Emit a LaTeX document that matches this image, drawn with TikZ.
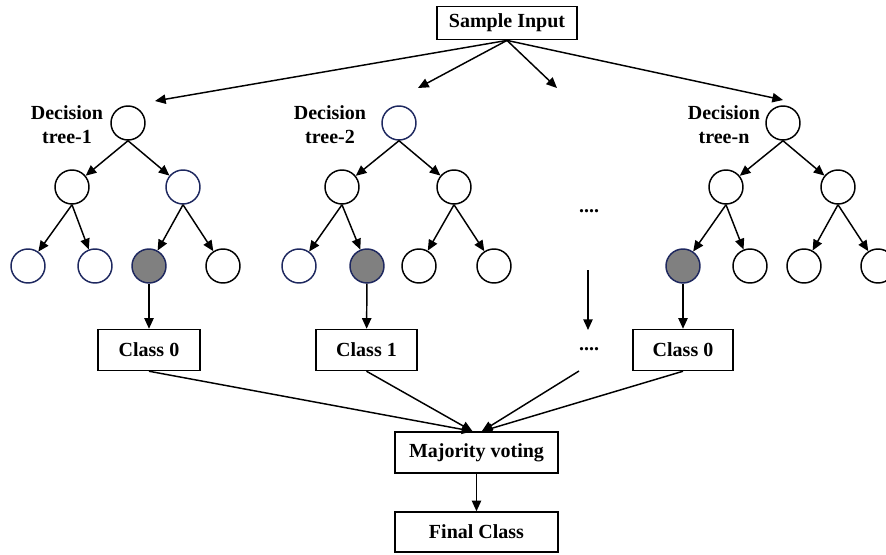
\documentclass[tikz,border=0pt]{standalone}
\usepackage{fontspec}
\setmainfont{Liberation Serif}
\usetikzlibrary{arrows.meta}

\definecolor{leafGray}{RGB}{128,128,128}
\definecolor{rimNavy}{RGB}{30,40,95}

\tikzset{
  lbl/.style={font=\bfseries\fontsize{15}{18}\selectfont},
  box/.style={lbl, draw, line width=1.1pt, minimum height=30.75pt, inner sep=0pt},
  knot/.style={circle, draw, line width=1.1pt, minimum size=25.5pt, inner sep=0pt},
  blueknot/.style={knot, draw=rimNavy},
  hitknot/.style={knot, draw=rimNavy, fill=leafGray},
  arr/.style={-{Triangle[length=8pt,width=7pt]}, line width=1.1pt},
}

\begin{document}
\begin{tikzpicture}[x=0.75pt,y=-0.75pt]
  \clip (0,0) rectangle (886,554);
  % Input
  \node[box, minimum width=105pt, minimum height=25pt] (input) at (507,23) {Sample Input};
  \coordinate (aim1) at (155,101);
  \coordinate (aim2) at (418,88);
  \coordinate (aim3) at (557,88);
  \coordinate (aimn) at (783,100);
  \draw[arr] (input.south) -- (aim1);
  \draw[arr] (input.south) -- (aim2);
  \draw[arr] (input.south) -- (aim3);
  \draw[arr] (input.south) -- (aimn);
  % Tree 1
  \node[lbl, align=center] (name1) at (67,125) {Decision\\tree-1};
  \node[knot] (t1) at (128,123) {};
  \node[knot] (t1l) at (72,187) {};
  \node[blueknot] (t1r) at (183,187) {};
  \node[blueknot] (t1ll) at (28,266) {};
  \node[blueknot] (t1lr) at (95,266) {};
  \node[hitknot] (t1rl) at (149,266) {};
  \node[knot] (t1rr) at (223,266) {};
  \draw[arr] (t1.south) -- (t1l);
  \draw[arr] (t1.south) -- (t1r);
  \draw[arr] (t1l.south) -- (t1ll);
  \draw[arr] (t1l.south) -- (t1lr);
  \draw[arr] (t1r.south) -- (t1rl);
  \draw[arr] (t1r.south) -- (t1rr);
  % Tree 2
  \node[lbl, align=center] (name2) at (330,125) {Decision\\tree-2};
  \node[blueknot] (t2) at (399,123) {};
  \node[knot] (t2l) at (342,187) {};
  \node[knot] (t2r) at (454,187) {};
  \node[blueknot] (t2ll) at (299,266) {};
  \node[hitknot] (t2lr) at (367,266) {};
  \node[knot] (t2rl) at (419,266) {};
  \node[knot] (t2rr) at (494,266) {};
  \draw[arr] (t2.south) -- (t2l);
  \draw[arr] (t2.south) -- (t2r);
  \draw[arr] (t2l.south) -- (t2ll);
  \draw[arr] (t2l.south) -- (t2lr);
  \draw[arr] (t2r.south) -- (t2rl);
  \draw[arr] (t2r.south) -- (t2rr);
  % Tree n
  \node[lbl, align=center] (namen) at (724,125) {Decision\\tree-n};
  \node[knot] (tn) at (783,123) {};
  \node[knot] (tnl) at (726,187) {};
  \node[knot] (tnr) at (838,187) {};
  \node[hitknot] (tnll) at (683,266) {};
  \node[knot] (tnlr) at (750,266) {};
  \node[knot] (tnrl) at (804,266) {};
  \node[knot] (tnrr) at (878,266) {};
  \draw[arr] (tn.south) -- (tnl);
  \draw[arr] (tn.south) -- (tnr);
  \draw[arr] (tnl.south) -- (tnll);
  \draw[arr] (tnl.south) -- (tnlr);
  \draw[arr] (tnr.south) -- (tnrl);
  \draw[arr] (tnr.south) -- (tnrr);
  % Gap between trees
  \node[lbl] (gapA) at (589,211) {....};
  \node[lbl] (gapB) at (589,349) {....};
  \coordinate (gapTop) at (588,270);
  \coordinate (gapEnd) at (588,330);
  \coordinate (gapFoot) at (579,371);
  \draw[arr] (gapTop) -- (gapEnd);
  % Classes
  \node[box, minimum width=76.5pt] (c1) at (149,350) {Class 0};
  \node[box, minimum width=76pt] (c2) at (366.5,350) {Class 1};
  \node[box, minimum width=75pt] (cn) at (683,350) {Class 0};
  \draw[arr] (t1rl) -- (c1);
  \draw[arr] (t2lr) -- (c2);
  \draw[arr] (tnll) -- (cn);
  % Voting
  \node[box, minimum width=122.25pt] (vote) at (476.5,452.5) {Majority voting};
  \node[box, minimum width=122.25pt, minimum height=30pt] (final) at (476.5,532) {Final Class};
  \draw[arr] (c1.south) -- ([xshift=-3pt]vote.north);
  \draw[arr] (c2.south) -- ([xshift=-3pt]vote.north);
  \draw[arr] (gapFoot) -- ([xshift=4pt]vote.north);
  \draw[arr] (cn.south) -- ([xshift=4pt]vote.north);
  \draw[arr] (vote) -- (final);
\end{tikzpicture}
\end{document}
